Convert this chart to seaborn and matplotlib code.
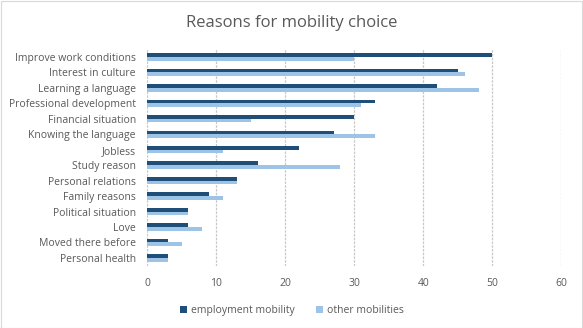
import matplotlib
matplotlib.use("Agg")
import matplotlib.pyplot as plt
import pandas as pd
import seaborn as sns
from matplotlib.patches import Rectangle

reasons = [
    "Improve work conditions",
    "Interest in culture",
    "Learning a language",
    "Professional development",
    "Financial situation",
    "Knowing the language",
    "Jobless",
    "Study reason",
    "Personal relations",
    "Family reasons",
    "Political situation",
    "Love",
    "Moved there before",
    "Personal health",
]
employment_mobility = [50, 45, 42, 33, 30, 27, 22, 16, 13, 9, 6, 6, 3, 3]
other_mobilities = [30, 46, 48, 31, 15, 33, 11, 28, 13, 11, 6, 8, 5, 3]
series_names = ["employment mobility", "other mobilities"]
x_ticks = [0, 10, 20, 30, 40, 50, 60]

df = pd.DataFrame({
    "reason": reasons * 2,
    "value": employment_mobility + other_mobilities,
    "series": [series_names[0]] * len(reasons) + [series_names[1]] * len(reasons),
})

sns.set_theme(style="white")
plt.rcParams["font.family"] = ["Open Sans", "DejaVu Sans"]

text_gray = "#595959"
fig = plt.figure(figsize=(5.83, 3.28), dpi=100)
ax = fig.add_axes([0.2521, 0.190, 0.7110, 0.660])

sns.barplot(
    data=df, y="reason", x="value", hue="series", orient="h",
    order=reasons, hue_order=series_names,
    palette=["#1F4E79", "#9DC3E6"], width=0.48, saturation=1,
    ax=ax, legend=True,
)
for p in ax.patches:
    p.set_linewidth(0)

ax.set_xlim(0, 60)
ax.set_xticks(x_ticks)
ax.set_xticklabels([str(t) for t in x_ticks])
ax.set_xlabel("")
ax.set_ylabel("")
ax.grid(axis="x", color="#C8C8C8", linewidth=0.9, linestyle=(0, (2, 1)))
ax.set_axisbelow(True)
for s in ax.spines.values():
    s.set_visible(False)
ax.tick_params(axis="both", length=0, colors=text_gray, labelsize=7.5)
ax.tick_params(axis="x", pad=9)
ax.tick_params(axis="y", pad=8)

leg = ax.legend(
    loc="upper center", bbox_to_anchor=(0.35, -0.14), ncol=2, frameon=False,
    fontsize=7.5, handlelength=0.7, handleheight=0.7, handletextpad=0.4,
    columnspacing=2.0, labelcolor=text_gray,
)

fig.suptitle("Reasons for mobility choice", x=0.5, y=0.955, fontsize=12,
             color=text_gray)

fig.patches.append(Rectangle((0.001, 0.001), 0.997, 0.996, transform=fig.transFigure,
                             fill=False, edgecolor="#D9D9D9", linewidth=0.8))

fig.savefig("out.png", dpi=100)
